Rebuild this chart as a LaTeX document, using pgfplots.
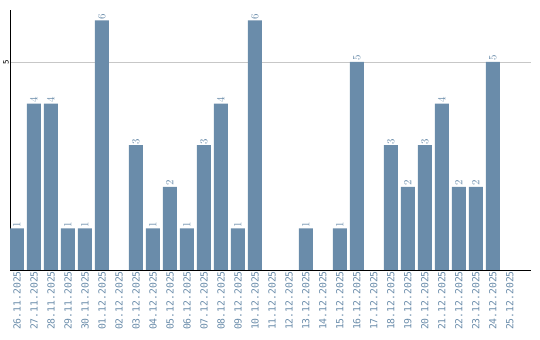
\documentclass[border=0pt]{standalone}
\usepackage{pgfplots}
\pgfplotsset{compat=1.18}
\usepackage{fontspec}
\setmainfont{DejaVu Sans}
\newfontfamily\monofont{DejaVu Sans Mono}
\definecolor{barc}{HTML}{6A8CAA}
\definecolor{labc}{HTML}{6A8CAA}
\begin{document}
\begin{tikzpicture}
\path[use as bounding box] (0,0) rectangle (540bp,340bp);
\begin{axis}[
  at={(10bp,70bp)}, anchor=south west,
  scale only axis, width=521bp, height=260bp,
  xmin=-0.41, xmax=30.24, ymin=0, ymax=6.25,
  axis lines*=left, axis line style={-, black, line width=0.8pt},
  xtick={0,...,29},
  xticklabels={26.11.2025,27.11.2025,28.11.2025,29.11.2025,30.11.2025,01.12.2025,02.12.2025,03.12.2025,04.12.2025,05.12.2025,06.12.2025,07.12.2025,08.12.2025,09.12.2025,10.12.2025,11.12.2025,12.12.2025,13.12.2025,14.12.2025,15.12.2025,16.12.2025,17.12.2025,18.12.2025,19.12.2025,20.12.2025,21.12.2025,22.12.2025,23.12.2025,24.12.2025,25.12.2025},
  xticklabel style={rotate=90, anchor=east, font=\monofont\fontsize{9.8}{10}\selectfont, text=labc, inner sep=1bp, xshift=0bp},
  major tick length=0pt,
  ytick={5}, yticklabels={5},
  yticklabel style={rotate=90, anchor=south, font=\monofont\fontsize{7.5}{7.5}\selectfont, inner sep=1bp},
  ymajorgrids, grid style={black!22, line width=0.8pt},
  bar width=14bp,
  nodes near coords,
  every node near coord/.append style={rotate=90, anchor=west, inner sep=1bp, font=\monofont\fontsize{10.5}{10.5}\selectfont, text=labc},
]
\addplot[ybar, fill=barc, draw=none] coordinates {
(0,1) (1,4) (2,4) (3,1) (4,1) (5,6) (7,3) (8,1) (9,2) (10,1) (11,3) (12,4) (13,1) (14,6) (17,1) (19,1) (20,5) (22,3) (23,2) (24,3) (25,4) (26,2) (27,2) (28,5)
};
\end{axis}
\end{tikzpicture}
\end{document}
